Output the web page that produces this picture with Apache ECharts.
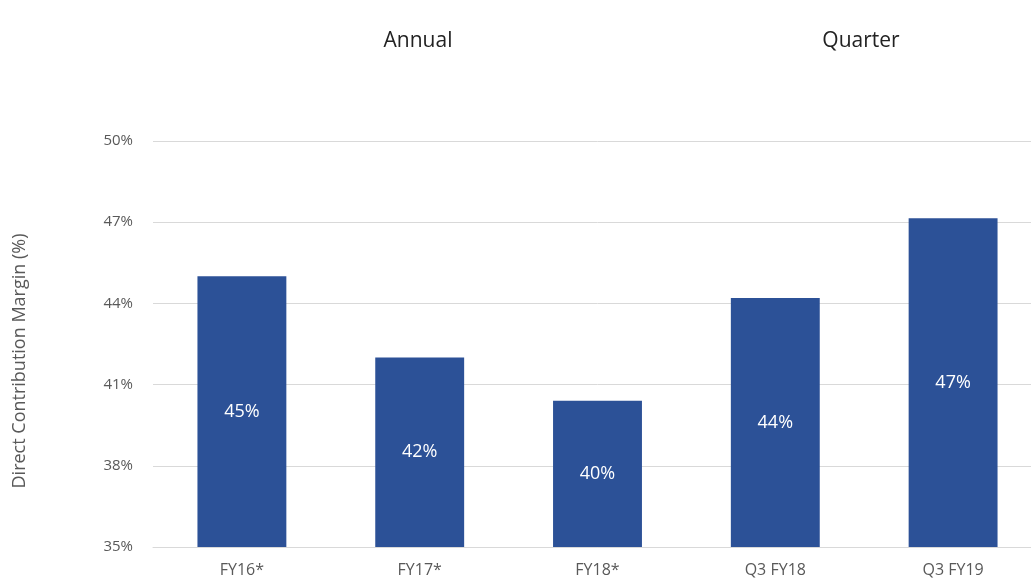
<!DOCTYPE html>
<html>
<head>
<meta charset="utf-8">
<script src="https://cdn.jsdelivr.net/npm/echarts@6/dist/echarts.min.js"></script>
<style>html,body{margin:0;padding:0;background:#fff;overflow:hidden}#c{width:1045px;height:584px}</style>
</head>
<body>
<div id="c"></div>
<script>
const categories = ['FY16*', 'FY17*', 'FY18*', 'Q3 FY18', 'Q3 FY19'];
const margins = [45.0, 42.0, 40.4, 44.2, 47.15];
const groupTitles = ['Annual', 'Quarter'];
const yAxisTitle = 'Direct Contribution Margin (%)';

const FONT = '"Open Sans", "Liberation Sans", sans-serif';
const chart = echarts.init(document.getElementById('c'), null, {renderer: 'canvas'});
chart.setOption({
  animation: false,
  backgroundColor: '#ffffff',
  title: [
    {text: groupTitles[0], left: 413, top: 26, textAlign: 'center',
     textStyle: {fontFamily: FONT, fontSize: 21, fontWeight: 'normal', color: '#222'}},
    {text: groupTitles[1], left: 856, top: 26, textAlign: 'center',
     textStyle: {fontFamily: FONT, fontSize: 21, fontWeight: 'normal', color: '#222'}}
  ],
  graphic: [{
    type: 'text', x: 20, y: 361, rotation: Math.PI / 2,
    style: {text: yAxisTitle, fontFamily: FONT, fontSize: 18, fill: '#595959',
            align: 'center', verticalAlign: 'middle'}
  }],
  grid: {left: 153, right: 3, top: 141, bottom: 37, containLabel: false},
  xAxis: {
    type: 'category',
    data: categories,
    axisLine: {show: true, lineStyle: {color: '#d9d9d9', width: 1}},
    axisTick: {show: false},
    axisLabel: {fontFamily: FONT, fontSize: 16, color: '#595959', margin: 15}
  },
  yAxis: {
    type: 'value',
    min: 35, max: 50, interval: 3,
    axisLine: {show: false},
    axisTick: {show: false},
    axisLabel: {formatter: '{value}%', fontFamily: FONT, fontSize: 15, color: '#595959', margin: 20},
    splitLine: {lineStyle: {color: '#d9d9d9', width: 1}}
  },
  series: [{
    type: 'bar',
    data: margins,
    barWidth: '50%',
    itemStyle: {color: '#2c5197'},
    label: {
      show: true, position: 'inside',
      formatter: p => Math.round(p.value) + '%',
      fontFamily: FONT, fontSize: 18, color: '#ffffff'
    }
  }]
});
</script>
</body>
</html>
